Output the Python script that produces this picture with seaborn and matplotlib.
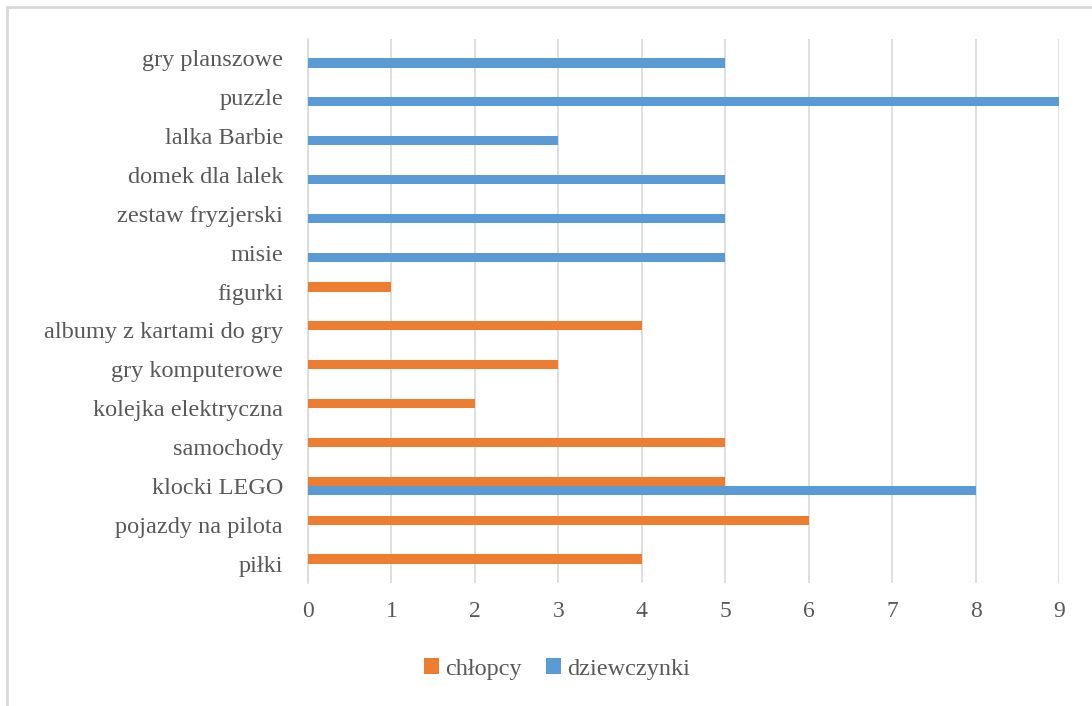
import matplotlib
matplotlib.use("Agg")
import matplotlib.pyplot as plt
from matplotlib.lines import Line2D
from matplotlib.patches import Patch
import pandas as pd
import seaborn as sns

# Toy categories, listed top to bottom as they appear on the chart
categories = [
    "gry planszowe", "puzzle", "lalka Barbie", "domek dla lalek",
    "zestaw fryzjerski", "misie", "figurki", "albumy z kartami do gry",
    "gry komputerowe", "kolejka elektryczna", "samochody", "klocki LEGO",
    "pojazdy na pilota", "piłki",
]
chlopcy = [0, 0, 0, 0, 0, 0, 1, 4, 3, 2, 5, 5, 6, 4]
dziewczynki = [5, 9, 3, 5, 5, 5, 0, 0, 0, 0, 0, 8, 0, 0]
series_names = ["chłopcy", "dziewczynki"]
series_colors = ["#ED7D31", "#5B9BD5"]
x_ticks = list(range(0, 10))

df = pd.DataFrame({
    "zabawka": categories * 2,
    "liczba": chlopcy + dziewczynki,
    "grupa": [series_names[0]] * len(categories) + [series_names[1]] * len(categories),
})

sns.set_theme(style="white")
plt.rcParams["font.family"] = ["Liberation Serif", "DejaVu Serif"]

fig = plt.figure(figsize=(10.92, 7.06), dpi=100)
ax = fig.add_axes([0.282, 0.1742, 0.9698 - 0.282, 0.9448 - 0.1742])

sns.barplot(
    data=df, x="liczba", y="zabawka", hue="grupa", order=categories,
    hue_order=series_names, palette=series_colors, orient="h",
    width=0.47, linewidth=0, saturation=1, legend=False, ax=ax, zorder=3,
)

ax.set_xlim(0, 9)
ax.set_ylim(len(categories) - 0.5, -0.5)
ax.set_xticks(x_ticks)
ax.set_xticklabels([str(t) for t in x_ticks])
ax.grid(axis="x", color="#D9D9D9", linewidth=1.2, zorder=0)
ax.grid(axis="y", visible=False)
for side in ["top", "right", "bottom"]:
    ax.spines[side].set_visible(False)
ax.spines["left"].set_color("#D9D9D9")
ax.spines["left"].set_linewidth(1.2)
ax.set_xlabel("")
ax.set_ylabel("")
ax.tick_params(axis="x", length=0, pad=13, labelsize=17, labelcolor="#595959")
ax.tick_params(axis="y", length=0, pad=18, labelsize=17.5, labelcolor="#595959")

handles = [Patch(facecolor=c, edgecolor="none") for c in series_colors]
fig.legend(
    handles, series_names, loc="center", bbox_to_anchor=(557 / 1092, 1 - 669 / 706),
    ncol=2, frameon=False, fontsize=17.5, labelcolor="#595959",
    handlelength=0.6, handleheight=0.6, handletextpad=0.25, columnspacing=1.0,
)

# Chart-area outline along the left and top edges
border = "#D9D9D9"
fig.add_artist(Line2D([7 / 1092, 7 / 1092], [0, 1 - 7 / 706], transform=fig.transFigure,
                      color=border, linewidth=2))
fig.add_artist(Line2D([7 / 1092, 1], [1 - 7 / 706, 1 - 7 / 706], transform=fig.transFigure,
                      color=border, linewidth=2))

fig.savefig("out.png", dpi=100, facecolor="white")
